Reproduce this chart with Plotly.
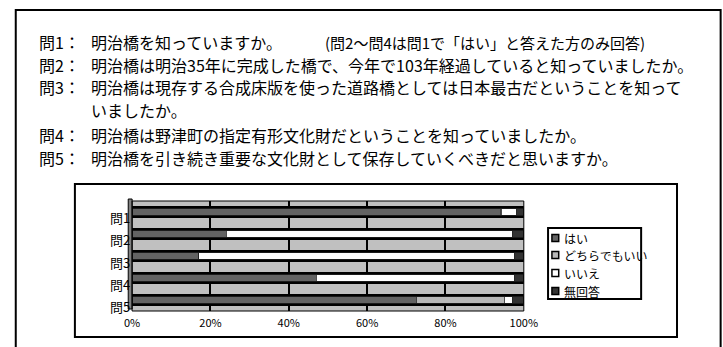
import numpy as np
import plotly.graph_objects as go

W, H = 723, 347
FONT = "Noto Sans CJK JP"

# ---------------- data ----------------
categories = ["問1", "問2", "問3", "問4", "問5"]
series_names = ["はい", "どちらでもいい", "いいえ", "無回答"]
hai = [94.0, 24.0, 17.0, 47.0, 72.5]
dochira = [0.3, 0.0, 0.0, 0.0, 22.5]
iie = [3.9, 73.0, 80.5, 50.5, 2.0]
mukaito = [1.8, 3.0, 2.5, 2.5, 3.0]
tick_vals = [0, 20, 40, 60, 80, 100]
tick_text = ["0%", "20%", "40%", "60%", "80%", "100%"]

question_labels = ["問1：", "問2：", "問3：", "", "問4：", "問5："]
question_texts = [
    "明治橋を知っていますか。",
    "明治橋は明治35年に完成した橋で、今年で103年経過していると知っていましたか。",
    "明治橋は現存する合成床版を使った道路橋としては日本最古だということを知って",
    "いましたか。",
    "明治橋は野津町の指定有形文化財だということを知っていましたか。",
    "明治橋を引き続き重要な文化財として保存していくべきだと思いますか。",
]
note_text = "(問2～問4は問1で「はい」と答えた方のみ回答)"

# ---------------- styles ----------------
colors = ["#636363", "#b8b8b8", "#ffffff", "#333333"]
line_y = [42, 64.5, 87, 109.5, 135, 158]


def px(x):
    return x / W


def py(y):
    return 1 - y / H


series = [hai, dochira, iie, mukaito]
totals = np.sum(np.array(series), axis=0)

fig = go.Figure()

# black outline band behind each stacked bar
fig.add_trace(go.Bar(
    y=categories, x=totals, orientation="h", width=0.52,
    marker=dict(color="#000000", line=dict(width=0)),
    xaxis="x", yaxis="y", showlegend=False, hoverinfo="skip",
))

for name, vals, col in zip(series_names, series, colors):
    fig.add_trace(go.Bar(
        y=categories, x=vals, orientation="h", width=0.30, name=name,
        marker=dict(color=col, line=dict(color="#222222", width=0.8)),
        xaxis="x2", yaxis="y", showlegend=False,
    ))

x_dom = [px(128), px(532)]
y_dom = [py(311), py(201)]
n = len(categories)

fig.update_layout(
    width=W, height=H,
    margin=dict(l=0, r=0, t=0, b=0),
    paper_bgcolor="white",
    plot_bgcolor="#c0c0c0",
    barmode="stack",
    font=dict(family=FONT, color="#000000"),
    xaxis=dict(domain=x_dom, range=[0, 100], tickvals=tick_vals, ticktext=tick_text,
               showgrid=True, gridcolor="#000000", gridwidth=2, zeroline=False,
               showline=False, ticks="", tickfont=dict(size=11, family=FONT),
               ticklabelstandoff=4, anchor="y", autorange=False),
    xaxis2=dict(range=[0, 100], overlaying="x", visible=False, anchor="y",
                autorange=False),
    yaxis=dict(domain=y_dom, range=[n - 0.5, -0.5], autorange=False,
               showticklabels=False, showgrid=False, zeroline=False,
               showline=False, ticks=""),
)

shapes = []
# outer frame (extends beyond picture on right and bottom)
shapes.append(dict(type="rect", xref="paper", yref="paper",
                   x0=px(8), x1=px(735), y0=py(10), y1=py(360),
                   line=dict(color="#000000", width=2)))
# chart box
shapes.append(dict(type="rect", xref="paper", yref="paper",
                   x0=px(69), x1=px(690), y0=py(184), y1=py(337),
                   line=dict(color="#000000", width=2)))
# left wall of the 3D plot
shapes.append(dict(type="rect", xref="paper", yref="paper",
                   x0=px(124), x1=px(128), y0=py(309), y1=py(199),
                   fillcolor="#808080", line=dict(color="#000000", width=1)))
# plot frame
shapes.append(dict(type="rect", xref="paper", yref="paper",
                   x0=x_dom[0], x1=x_dom[1], y0=y_dom[0], y1=y_dom[1],
                   line=dict(color="#000000", width=1)))

# legend box
lg_x0, lg_x1, lg_y0, lg_y1 = 557, 653, 228, 299
shapes.append(dict(type="rect", xref="paper", yref="paper",
                   x0=px(lg_x0), x1=px(lg_x1), y0=py(lg_y0), y1=py(lg_y1),
                   fillcolor="white", line=dict(color="#000000", width=2)))
leg_rows = [238, 255, 273, 291]

annotations = []
for i, (name, col) in enumerate(zip(series_names, colors)):
    yc = leg_rows[i]
    shapes.append(dict(type="rect", xref="paper", yref="paper",
                       x0=px(561), x1=px(568), y0=py(yc - 3.5), y1=py(yc + 3.5),
                       fillcolor=col, line=dict(color="#000000", width=1.5)))
    annotations.append(dict(x=px(571), y=py(yc), xref="paper", yref="paper",
                            text=name, showarrow=False, xanchor="left", yanchor="middle",
                            font=dict(size=12, family=FONT)))

# category labels (shifted down like the 3D front face)
for c in categories:
    annotations.append(dict(x=px(128), y=c, xref="paper", yref="y", text=c,
                            showarrow=False, xanchor="right", yanchor="middle",
                            yshift=-6, font=dict(size=13, family=FONT)))

# question text
for lab, txt, yy in zip(question_labels, question_texts, line_y):
    if lab:
        annotations.append(dict(x=px(30), y=py(yy), xref="paper", yref="paper",
                                text=lab, showarrow=False, xanchor="left",
                                yanchor="middle", font=dict(size=16, family=FONT)))
    annotations.append(dict(x=px(84), y=py(yy), xref="paper", yref="paper",
                            text=txt, showarrow=False, xanchor="left",
                            yanchor="middle", font=dict(size=16, family=FONT)))
annotations.append(dict(x=px(325), y=py(line_y[0]), xref="paper", yref="paper",
                        text=note_text, showarrow=False, xanchor="left",
                        yanchor="middle", font=dict(size=15, family=FONT)))

fig.update_layout(shapes=shapes, annotations=annotations)
fig.write_html("out.html")
